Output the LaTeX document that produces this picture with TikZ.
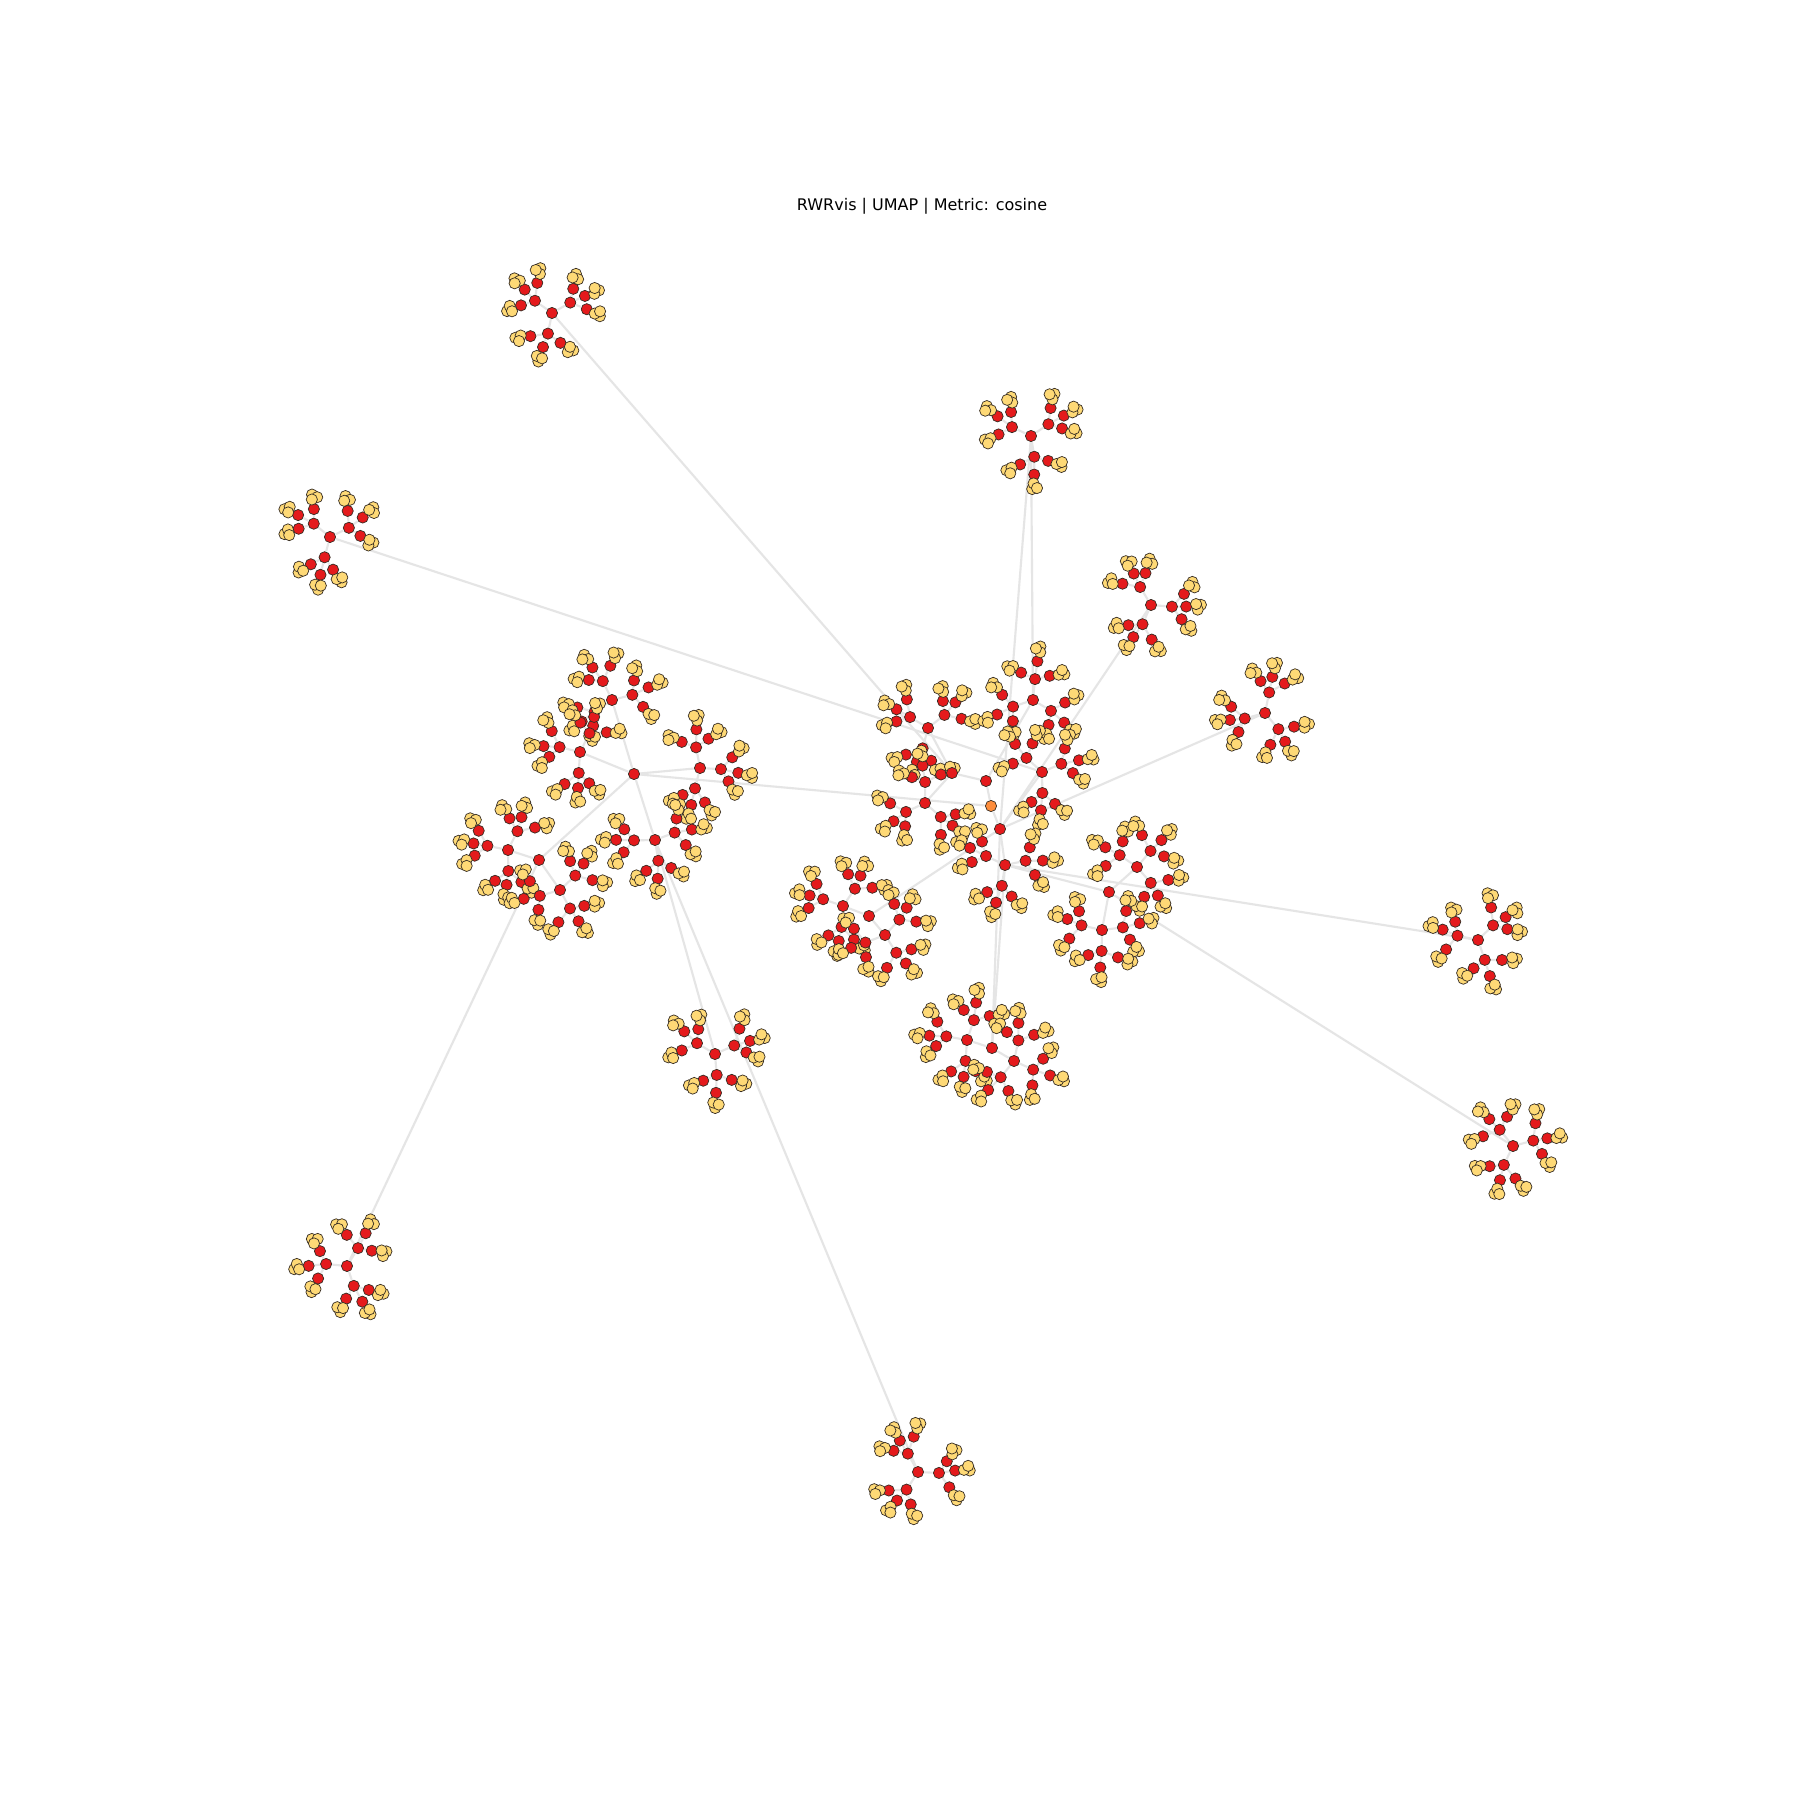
\documentclass[tikz,border=0pt]{standalone}
\usepackage{fontspec}
\setmainfont{DejaVu Sans}
\definecolor{nred}{RGB}{228,26,28}
\definecolor{nyel}{RGB}{254,217,118}
\definecolor{nora}{RGB}{253,141,60}
\definecolor{edg}{RGB}{229,229,229}
\definecolor{nbd}{RGB}{55,45,35}
\tikzset{
 pt/.style={circle,inner sep=0pt,minimum size=1.12mm},
 rn/.style={circle,inner sep=0pt,minimum size=1.12mm,fill=nred,draw=nbd,line width=0.2pt},
 yn/.style={rn,fill=nyel},
 seednode/.style={rn,fill=nora},
 ed/.style={draw=edg,line width=0.6pt},
}
% pass 1: place (invisible) named nodes and draw the edges
% #1 name, #2 x, #3 y, #4 rotation, #5 spread between hubs
\newcommand{\flowerA}[5]{%
  \node[pt] (#1) at (#2,#3) {};
  \foreach \i in {0,1,2}{%
    \pgfmathsetmacro\ha{#4+(\i-1)*#5+9*sin(37*\i+#2+#3)}%
    \path (#1) ++(\ha:21) node[pt] (#1-\i) {};
    \draw[ed] (#1) -- (#1-\i);
    \foreach \j in {0,1,2}{%
      \pgfmathsetmacro\la{\ha+(\j-1)*60+12*sin(71*\j+53*\i+2*#2+#3)}%
      \pgfmathsetmacro\ld{16+2*sin(113*\j+29*\i+#2)}%
      \path (#1-\i) ++(\la:\ld) node[pt] (#1-\i-\j) {};
      \draw[ed] (#1-\i) -- (#1-\i-\j);
      \foreach \k in {0,1,2}{%
        \pgfmathsetmacro\ka{\la+130*\k+40*sin(17*\i+31*\j+#3)}%
        \path (#1-\i-\j) ++(\la:12) ++(\ka:3.2) node[pt] (#1-\i-\j-\k) {};
        \draw[ed] (#1-\i-\j) -- (#1-\i-\j-\k);
      }%
    }%
  }%
}
% pass 2: draw the visible nodes on top of the edges
\newcommand{\flowerB}[1]{%
  \node[rn] (v#1) at (#1) {};
  \foreach \i in {0,1,2}{%
    \node[rn] (v#1-\i) at (#1-\i) {};
    \foreach \j in {0,1,2}{%
      \node[rn] (v#1-\i-\j) at (#1-\i-\j) {};
      \foreach \k in {0,1,2}{%
        \node[yn] (v#1-\i-\j-\k) at (#1-\i-\j-\k) {};
      }%
    }%
  }%
}
\begin{document}
\begin{tikzpicture}[x=0.01cm,y=-0.01cm]
\fill[white] (0,0) rectangle (1800,1800);
\useasboundingbox (0,0) rectangle (1800,1800);
\node[font=\fontsize{4.55}{5}\selectfont] (title) at (922,206) {RWRvis | UMAP | Metric: cosine};

% ---------- pass 1 ----------
\node[pt] (seed) at (991,806) {};
\node[pt] (r1) at (986,781) {};
\node[pt] (r0) at (1000,829) {};
\node[pt] (r2) at (952,773) {};
\node[pt] (g1) at (634,774) {};
\node[pt] (g2) at (539,860) {};
\node[pt] (g6) at (869,916) {};
\node[pt] (g8) at (1109,892) {};
\node[pt] (g10) at (992,1048) {};

% isolated flowers
\flowerA{fa}{552}{313}{216}{120}
\flowerA{fb}{330}{537}{220}{120}
\flowerA{fc}{1031}{436}{197}{120}
\flowerA{fd}{1151}{605}{240}{120}
\flowerA{fe}{1265}{713}{170}{120}
\flowerA{ff}{1478}{940}{200}{120}
\flowerA{fg}{1513}{1146}{230}{120}
\flowerA{fh}{347}{1266}{190}{120}
\flowerA{fi}{918}{1472}{250}{120}
\flowerA{fj}{715}{1054}{210}{120}
% left groups
\flowerA{ga}{612}{700}{253}{100}
\flowerA{gb}{580}{752}{202}{100}
\flowerA{gc}{700}{768}{355}{100}
\flowerA{gd}{655}{840}{72}{100}
\flowerA{ge}{508}{850}{198}{100}
\flowerA{gf}{560}{890}{55}{100}
% central flowers
\flowerA{ca}{928}{728}{220}{110}
\flowerA{cb}{1033}{700}{280}{110}
\flowerA{cc}{1042}{772}{330}{110}
\flowerA{cd}{925}{803}{160}{110}
\flowerA{ce}{1005}{865}{90}{110}
\flowerA{cf}{843}{906}{201}{100}
\flowerA{cg}{885}{935}{50}{100}
\flowerA{ch}{1137}{867}{318}{100}
\flowerA{ci}{1102}{930}{100}{100}
\flowerA{cj}{967}{1040}{198}{100}
\flowerA{ck}{1014}{1061}{31}{100}

% connections between clusters
\draw[ed] (seed) -- (r1);
\draw[ed] (seed) -- (r0);
\draw[ed] (seed) -- (g1);
\draw[ed] (r1) -- (r2);
\draw[ed] (r1) -- (cb);
\draw[ed] (r2) -- (ca);
\draw[ed] (r2) -- (cd);
\draw[ed] (r2) -- (fa);
\draw[ed] (r0) -- (cc);
\draw[ed] (r0) -- (ce);
\draw[ed] (r0) -- (g6);
\draw[ed] (r0) -- (g10);
\draw[ed] (ce) -- (g10);
\draw[ed] (ce) -- (g8);
\draw[ed] (g1) -- (ga);
\draw[ed] (g1) -- (gb);
\draw[ed] (g1) -- (gc);
\draw[ed] (g1) -- (gd);
\draw[ed] (g1) -- (g2);
\draw[ed] (g2) -- (ge);
\draw[ed] (g2) -- (gf);
\draw[ed] (g6) -- (cf);
\draw[ed] (g6) -- (cg);
\draw[ed] (g8) -- (ch);
\draw[ed] (g8) -- (ci);
\draw[ed] (g10) -- (cj);
\draw[ed] (g10) -- (ck);
\draw[ed] (fb) -- (cc);
\draw[ed] (fc) -- (r0);
\draw[ed] (fc) -- (cb);
\draw[ed] (fd) -- (r0);
\draw[ed] (fe) -- (r0);
\draw[ed] (ff) -- (ce);
\draw[ed] (fg) -- (g8);
\draw[ed] (fh) -- (g2);
\draw[ed] (fi) -- (gd);
\draw[ed] (fj) -- (gd);

% ---------- pass 2 ----------
\foreach \f in {fa,fb,fc,fd,fe,ff,fg,fh,fi,fj,ga,gb,gc,gd,ge,gf,ca,cb,cc,cd,ce,cf,cg,ch,ci,cj,ck}{%
  \flowerB{\f}%
}
\node[rn] (vr1) at (r1) {};
\node[rn] (vr0) at (r0) {};
\node[rn] (vr2) at (r2) {};
\node[rn] (vg1) at (g1) {};
\node[rn] (vg2) at (g2) {};
\node[rn] (vg6) at (g6) {};
\node[rn] (vg8) at (g8) {};
\node[rn] (vg10) at (g10) {};
\node[seednode] (vseed) at (seed) {};
\end{tikzpicture}
\end{document}
